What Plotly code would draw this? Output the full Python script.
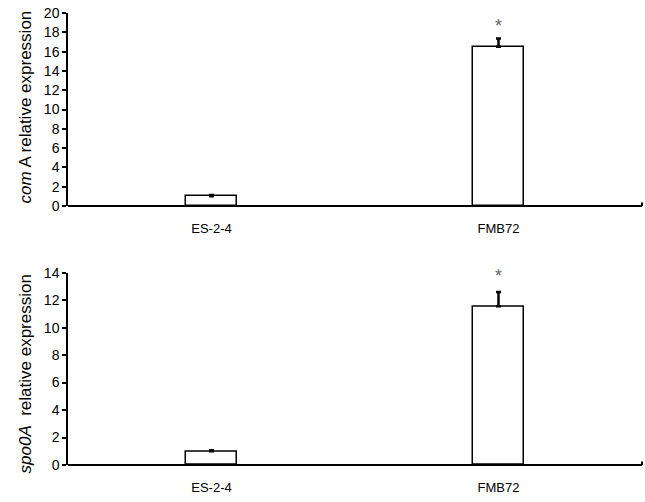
import plotly.graph_objects as go
from plotly.subplots import make_subplots

categories = ["ES-2-4", "FMB72"]
comA_values = [1.0, 16.5]
comA_errors = [0.15, 0.85]
spo0A_values = [1.0, 11.55]
spo0A_errors = [0.08, 1.05]
comA_ticks = [0, 2, 4, 6, 8, 10, 12, 14, 16, 18, 20]
spo0A_ticks = [0, 2, 4, 6, 8, 10, 12, 14]
significance = ["", "*"]

FONT = "Liberation Sans, Arial, sans-serif"

fig = make_subplots(rows=2, cols=1, shared_xaxes=False, vertical_spacing=0.0)

def add_bars(vals, errs, row):
    fig.add_trace(go.Bar(
        x=categories, y=vals, width=0.18,
        marker=dict(color="white", line=dict(color="black", width=1.5)),
        error_y=dict(type="data", symmetric=False, array=errs, arrayminus=[0]*len(errs),
                     color="black", thickness=2.5, width=2.5),
        showlegend=False, hoverinfo="skip",
    ), row=row, col=1)

add_bars(comA_values, comA_errors, 1)
add_bars(spo0A_values, spo0A_errors, 2)

fig.update_layout(
    width=645, height=502,
    margin=dict(l=68, r=3, t=13, b=37, autoexpand=False),
    paper_bgcolor="white", plot_bgcolor="white",
    font=dict(family=FONT, size=13, color="black"),
    bargap=0,
)

fig.update_xaxes(domain=[0, 1], showline=False,
                 ticks="", showgrid=False, zeroline=False, range=[-0.5, 1.5],
                 ticklabelstandoff=13, tickfont=dict(size=13))
fig.update_yaxes(showline=True, linecolor="black", linewidth=1.5, ticks="outside",
                 ticklen=4, tickwidth=1.5, tickcolor="black", showgrid=False,
                 zeroline=True, zerolinecolor="black", zerolinewidth=2.2,
                 tickfont=dict(size=14))
fig.update_yaxes(domain=[0.573, 1.0], range=[0, 20], tickvals=comA_ticks, row=1, col=1)
fig.update_yaxes(domain=[0.0, 0.4254], range=[0, 14], tickvals=spo0A_ticks, row=2, col=1)

# significance markers
for i, c in enumerate(categories):
    if significance[i]:
        fig.add_annotation(x=c, y=comA_values[i] + comA_errors[i], xref="x", yref="y",
                           text=significance[i], showarrow=False, yanchor="bottom", yshift=1,
                           font=dict(size=18, color="#666666"))
        fig.add_annotation(x=c, y=spo0A_values[i] + spo0A_errors[i], xref="x2", yref="y2",
                           text=significance[i], showarrow=False, yanchor="bottom", yshift=4,
                           font=dict(size=18, color="#666666"))

# axis titles
fig.add_annotation(x=-0.0732, y=(465 - 106.5) / 452, xref="paper", yref="paper", textangle=-90,
                   text="<i>com</i> A relative expression", showarrow=False,
                   font=dict(size=17), xanchor="center", yanchor="middle")
fig.add_annotation(x=-0.0732, y=(465 - 373.5) / 452, xref="paper", yref="paper", textangle=-90,
                   text="<i>spo0A</i>&nbsp; relative expression", showarrow=False,
                   font=dict(size=17), xanchor="center", yanchor="middle")

# small end ticks at right end of x axes
for y0 in [0.573, 0.0]:
    fig.add_shape(type="line", xref="paper", yref="paper", x0=1.0, x1=1.0,
                  y0=y0, y1=y0 + 0.008, line=dict(color="black", width=2))

fig.write_html("out.html", config={"displayModeBar": False},
               post_script="document.body.style.margin='0px';document.body.style.overflow='hidden';")
